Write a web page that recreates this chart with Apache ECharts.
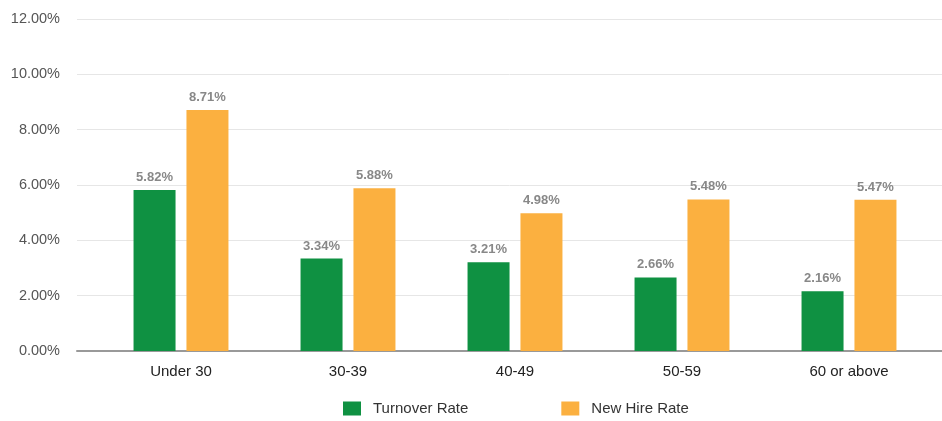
<!DOCTYPE html>
<html>
<head>
<meta charset="utf-8">
<script src="https://cdn.jsdelivr.net/npm/echarts@6/dist/echarts.min.js"></script>
<style>
  html, body { margin: 0; padding: 0; background: #fff; }
  #chart { width: 942px; height: 421px; }
</style>
</head>
<body>
<div id="chart"></div>
<script>
// data
var categories = ['Under 30', '30-39', '40-49', '50-59', '60 or above'];
var turnoverRate = [5.82, 3.34, 3.21, 2.66, 2.16];
var newHireRate = [8.71, 5.88, 4.98, 5.48, 5.47];
var seriesNames = ['Turnover Rate', 'New Hire Rate'];

var chart = echarts.init(document.getElementById('chart'));

var pctLabel = function (p) { return p.value.toFixed(2) + '%'; };

var option = {
    animation: false,
    textStyle: { fontFamily: 'Liberation Sans, Arial, sans-serif' },
    color: ['#0f9142', '#fbb040'],
    legend: {
        data: seriesNames,
        bottom: 0,
        left: 338,
        itemWidth: 18,
        itemHeight: 14,
        itemGap: 93,
        icon: 'rect',
        textStyle: { fontSize: 15, color: '#333', padding: [0, 0, 0, 7] }
    },
    grid: [
        // background grid: gridlines + y labels
        { left: 77, right: 0, top: 19, bottom: 70 },
        // bars grid
        { left: 97.5, right: 9.5, top: 19, bottom: 70 }
    ],
    xAxis: [
        {
            gridIndex: 0, type: 'category', data: [''],
            axisLine: { lineStyle: { color: '#999', width: 2 } },
            axisTick: { show: false }, axisLabel: { show: false }
        },
        {
            gridIndex: 1, type: 'category', data: categories,
            axisLine: { show: false }, axisTick: { show: false },
            axisLabel: { color: '#222', fontSize: 15, margin: 13 }
        }
    ],
    yAxis: [
        {
            gridIndex: 0, type: 'value', min: 0, max: 12, interval: 2,
            axisLabel: {
                color: '#555', fontSize: 14.5, margin: 17,
                formatter: function (v) { return v.toFixed(2) + '%'; }
            },
            splitLine: { lineStyle: { color: '#e6e6e6' } },
            axisLine: { show: false }, axisTick: { show: false }
        },
        {
            gridIndex: 1, type: 'value', min: 0, max: 12, interval: 2,
            show: false, splitLine: { show: false }
        }
    ],
    series: [
        {
            name: seriesNames[0], type: 'bar',
            xAxisIndex: 1, yAxisIndex: 1,
            data: turnoverRate,
            barWidth: 42, barGap: '26%',
            label: {
                show: true, position: 'top', distance: 6,
                color: '#888', fontSize: 13, fontWeight: 'bold',
                formatter: pctLabel
            }
        },
        {
            name: seriesNames[1], type: 'bar',
            xAxisIndex: 1, yAxisIndex: 1,
            data: newHireRate,
            barWidth: 42, barGap: '26%',
            label: {
                show: true, position: 'top', distance: 6,
                color: '#888', fontSize: 13, fontWeight: 'bold',
                formatter: pctLabel
            }
        }
    ]
};

chart.setOption(option);
</script>
</body>
</html>
